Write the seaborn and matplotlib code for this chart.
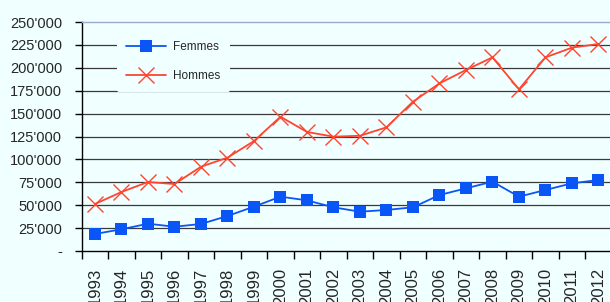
import numpy as np
import pandas as pd
import matplotlib
matplotlib.use("Agg")
import matplotlib.pyplot as plt
from matplotlib.ticker import FuncFormatter, MultipleLocator
import seaborn as sns

years = list(range(1993, 2013))
femmes = [18600, 23700, 29800, 26500, 29500, 38200, 48400, 59300, 55300, 47700,
          42900, 44800, 47700, 61100, 68400, 75700, 59300, 66600, 73900, 77500]
hommes = [51300, 64400, 75300, 73100, 92000, 101900, 120000, 146600, 130000, 124800,
          125800, 135000, 163000, 183000, 197600, 211400, 176500, 211400, 222000, 226000]

df = pd.DataFrame({"Année": years, "Femmes": femmes, "Hommes": hommes})

bg = "#F0FFFF"
blue = "#0A55F5"
red = "#FF4530"
sns.set_style("white")
plt.rcParams["font.family"] = ["Liberation Sans", "DejaVu Sans"]

fig = plt.figure(figsize=(6.10, 3.02), dpi=100, facecolor=bg)
ax = fig.add_axes([81.7 / 610, 51 / 302, 530 / 610, 229 / 302])
ax.set_facecolor(bg)

# horizontal gridlines drawn first so the legend can hide them
for v in range(25000, 250000, 25000):
    ax.axhline(v, color="#3a3a3a", lw=0.9, zorder=1)

sns.lineplot(data=df, x="Année", y="Femmes", color=blue, marker="s",
             markersize=8, markeredgewidth=0, lw=1.3, label="Femmes", ax=ax, zorder=3)
sns.lineplot(data=df, x="Année", y="Hommes", color=red, marker="x",
             markersize=11, markeredgewidth=1.0, markeredgecolor=red,
             lw=1.3, label="Hommes", ax=ax, zorder=3)

ax.set_xlim(1992.5, 2012.5)
ax.set_ylim(0, 250000)
ax.set_xlabel("")
ax.set_ylabel("")

ax.yaxis.set_major_locator(MultipleLocator(25000))
ax.yaxis.set_major_formatter(FuncFormatter(
    lambda v, p: "-" if v == 0 else f"{int(v):,}".replace(",", "'")))
ax.set_xticks(years)
ax.set_xticklabels([str(y) for y in years], rotation=90)
ax.set_xticks(np.arange(1992.5, 2013, 1), minor=True)
ax.tick_params(axis="x", which="major", length=0, pad=12, labelsize=12)
ax.tick_params(axis="x", which="minor", length=5.5, width=1, color="black",
               direction="out", bottom=True)
ax.tick_params(axis="y", length=5, width=1, color="black", direction="out",
               left=True, pad=9, labelsize=10.5)

for s in ["left", "bottom"]:
    ax.spines[s].set_color("black")
    ax.spines[s].set_linewidth(1)
ax.spines["top"].set_color("#9aaac8")
ax.spines["top"].set_linewidth(1)
ax.spines["right"].set_visible(False)

leg = ax.legend(loc="upper left", bbox_to_anchor=(0.055, 0.985), frameon=True,
                facecolor=bg, edgecolor=bg, framealpha=1, fontsize=8.5,
                labelspacing=1.5, handlelength=3.4, handletextpad=0.6,
                borderpad=0.8)
leg.set_zorder(2)
leg.get_frame().set_linewidth(0)

fig.savefig("out.png", dpi=100, facecolor=bg)
